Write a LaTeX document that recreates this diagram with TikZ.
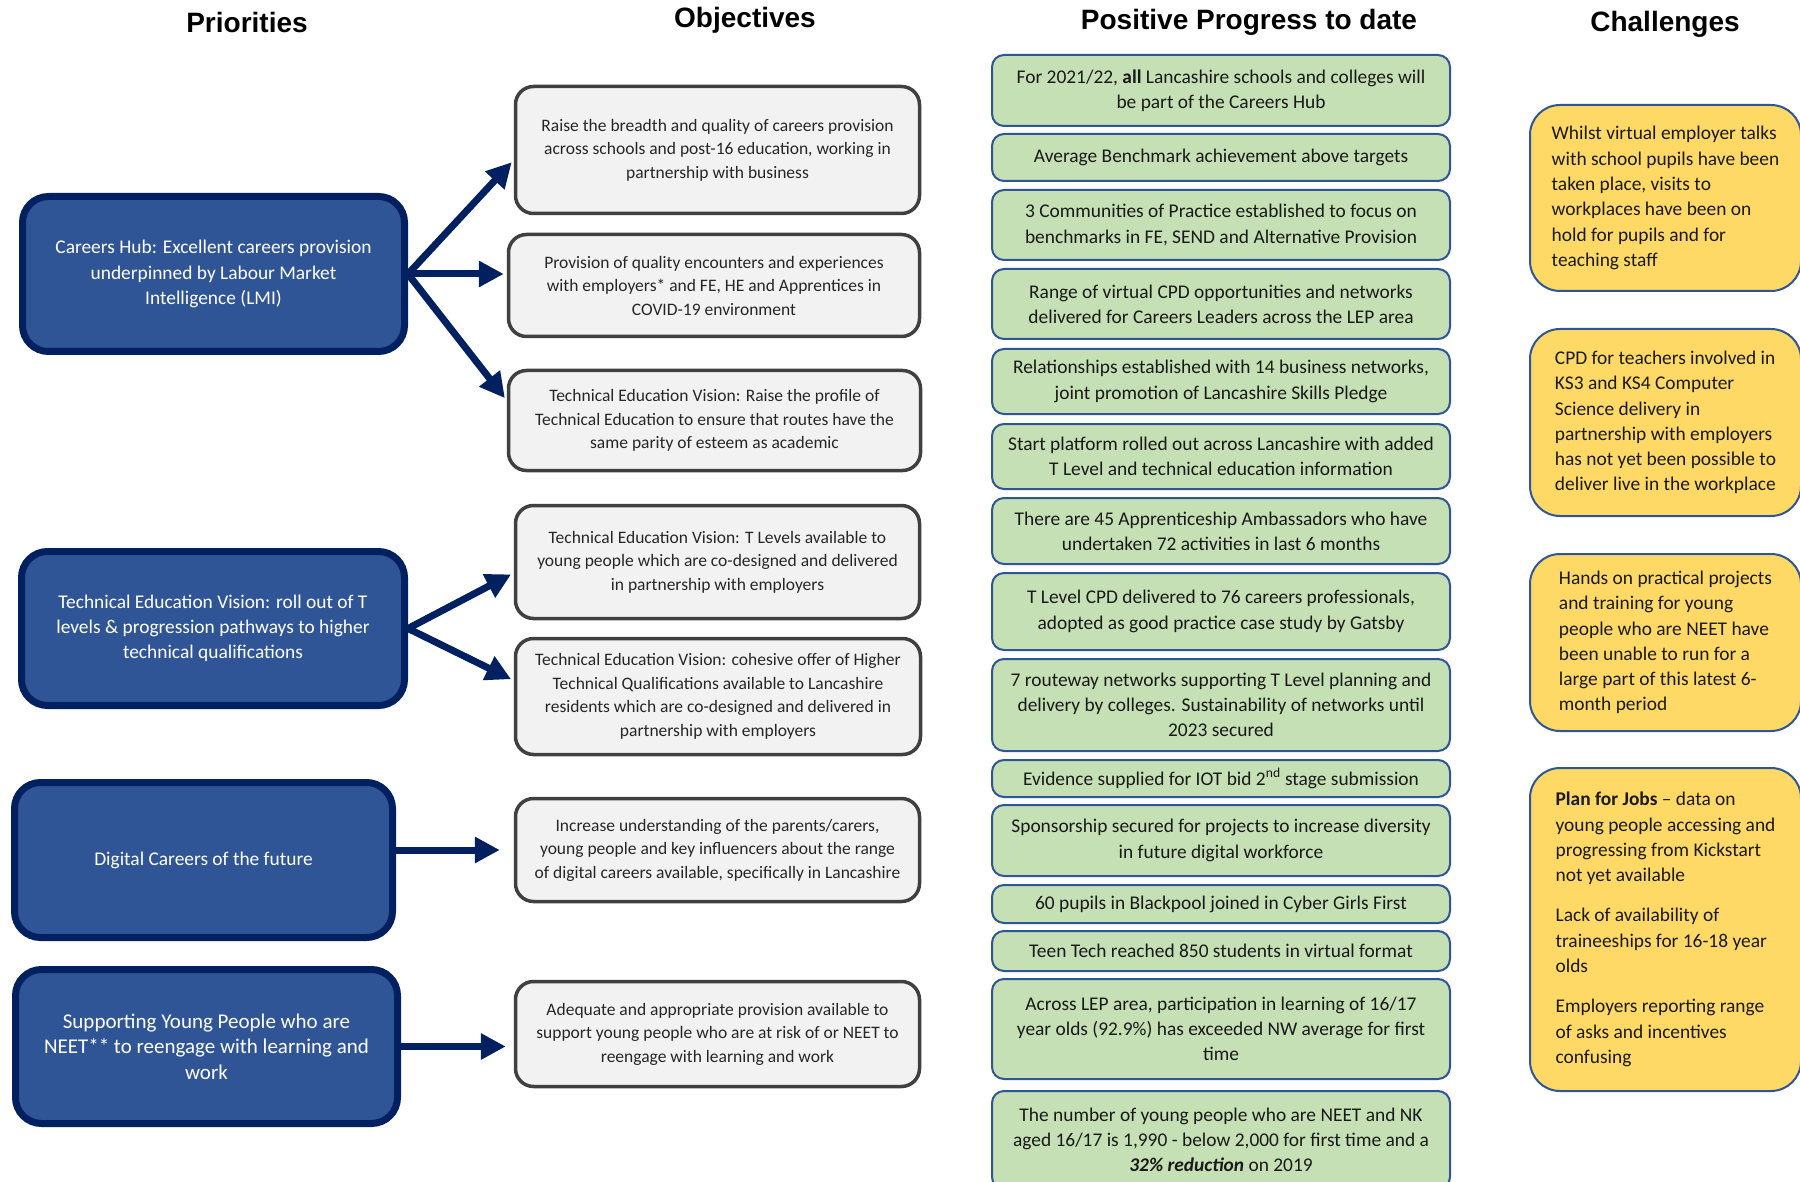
\documentclass[tikz,border=0pt]{standalone}
\usepackage{fontspec}
\setmainfont{Carlito}
\newfontfamily\headfamily{Liberation Sans}
\usetikzlibrary{arrows.meta}
\definecolor{prioblue}{HTML}{2F5597}
\definecolor{navy}{HTML}{002060}
\definecolor{objgrey}{HTML}{F2F2F2}
\definecolor{objline}{HTML}{404040}
\definecolor{proggreen}{HTML}{C5E0B4}
\definecolor{chalyellow}{HTML}{FFD966}
\definecolor{boxline}{HTML}{2F5597}
\newcommand{\hd}{\headfamily\bfseries\fontsize{28}{32}\selectfont}
\newcommand{\bt}{\fontsize{19.4}{25.3}\selectfont}
\newcommand{\nt}{\fontsize{21}{25.5}\selectfont}
\newcommand{\ot}{\fontsize{17.5}{23.5}\selectfont}
\tikzset{
  prio/.style={draw=navy, line width=7pt, fill=prioblue, rounded corners=26pt,
    text=white, font=\bt, align=center, inner sep=0pt},
  objbox/.style={draw=objline, line width=3.5pt, fill=objgrey, rounded corners=18pt,
    text=black!85, font=\ot, align=center, inner sep=0pt, minimum width=404pt},
  progbox/.style={draw=boxline, line width=2pt, fill=proggreen, rounded corners=12pt,
    text=black!90, font=\bt, align=center, inner sep=0pt, minimum width=458pt},
  chalbox/.style={draw=boxline, line width=2pt, fill=chalyellow, rounded corners=30pt,
    text=black!90, font=\bt, align=left, inner sep=0pt, minimum width=271pt},
  bigarrow/.style={navy, line width=7pt, -{Triangle[length=25pt,width=25pt]}, shorten >=3pt},
}

\begin{document}
\begin{tikzpicture}[x=1pt,y=-1pt]
   \useasboundingbox (0,0) rectangle (1800,1182);
   \fill[white] (0,0) rectangle (1800,1182);
   \clip (0,0) rectangle (1800,1182);
   % column headings
   \node[font=\hd, anchor=base] (head-prio) at (247,33) {Priorities};
   \node[font=\hd, anchor=base] (head-obj)  at (745,28) {Objectives};
   \node[font=\hd, anchor=base] (head-prog) at (1249,30) {Positive Progress to date};
   \node[font=\hd, anchor=base] (head-chal) at (1665,32) {Challenges};
   % priorities
   \node[prio, minimum width=382pt, minimum height=155pt] (prio-hub) at (213.5,274)
    {Careers Hub: Excellent careers provision\\underpinned by Labour Market\\Intelligence (LMI)};
   \node[prio, minimum width=383pt, minimum height=154pt] (prio-tech) at (213,628.5)
    {Technical Education Vision: roll out of T\\levels \& progression pathways to higher\\technical qualifications};
   \node[prio, minimum width=378pt, minimum height=155pt] (prio-digital) at (203.5,860)
    {Digital Careers of the future};
   \node[prio, font=\nt, minimum width=382pt, minimum height=154pt] (prio-neet) at (206.5,1046.5)
    {Supporting Young People who are\\NEET** to reengage with learning and\\work};
   % objectives
   \node[objbox, minimum height=127pt] (obj-1) at (717.5,150)
    {Raise the breadth and quality of careers provision\\across schools and post-16 education, working in\\partnership with business};
   \node[objbox, minimum width=411pt, minimum height=102pt] (obj-2) at (714,285.5)
    {Provision of quality encounters and experiences\\with employers* and FE, HE and Apprentices in\\COVID-19 environment};
   \node[objbox, minimum width=412pt, minimum height=100pt] (obj-3) at (714.5,420.5)
    {Technical Education Vision: Raise the profile of\\Technical Education to ensure that routes have the\\same parity of esteem as academic};
   \node[objbox, minimum height=113pt] (obj-4) at (717.5,562)
    {Technical Education Vision: T Levels available to\\young people which are co-designed and delivered\\in partnership with employers};
   \node[objbox, minimum width=405pt, minimum height=116pt] (obj-5) at (718,696.5)
    {Technical Education Vision: cohesive offer of Higher\\Technical Qualifications available to Lancashire\\residents which are co-designed and delivered in\\partnership with employers};
   \node[objbox, minimum height=103pt] (obj-6) at (717.5,850)
    {Increase understanding of the parents/carers,\\young people and key influencers about the range\\of digital careers available, specifically in Lancashire};
   \node[objbox, minimum height=105pt] (obj-7) at (717.5,1034)
    {Adequate and appropriate provision available to\\support young people who are at risk of or NEET to\\reengage with learning and work};
   % arrows
   \draw[bigarrow] (prio-hub.east) -- ([yshift=-10pt]obj-1.west);
   \draw[bigarrow] (prio-hub.east) -- (prio-hub.east -| obj-2.west);
   \draw[bigarrow] (prio-hub.east) -- ([yshift=20pt]obj-3.west);
   \draw[bigarrow] (prio-tech.east) -- ([yshift=-11pt]obj-4.west);
   \draw[bigarrow] (prio-tech.east) -- ([yshift=16pt]obj-5.west);
   \draw[bigarrow, shorten >=14pt] (prio-digital.east |- obj-6.west) -- (obj-6.west);
   \draw[bigarrow, shorten >=8pt] (prio-neet.east) -- (prio-neet.east -| obj-7.west);
   % progress to date
   \node[progbox, minimum height=71pt] (prog-1) at (1221,90.5)
    {For 2021/22, \textbf{all} Lancashire schools and colleges will\\be part of the Careers Hub};
   \node[progbox, minimum height=47pt] (prog-2) at (1221,157.5)
    {Average Benchmark achievement above targets};
   \node[progbox, minimum height=70pt] (prog-3) at (1221,225)
    {3 Communities of Practice established to focus on\\benchmarks in FE, SEND and Alternative Provision};
   \node[progbox, minimum height=70pt] (prog-4) at (1221,304)
    {Range of virtual CPD opportunities and networks\\delivered for Careers Leaders across the LEP area};
   \node[progbox, minimum height=65pt] (prog-5) at (1221,381.5)
    {Relationships established with 14 business networks,\\joint promotion of Lancashire Skills Pledge};
   \node[progbox, minimum height=65pt] (prog-6) at (1221,456.5)
    {Start platform rolled out across Lancashire with added\\T Level and technical education information};
   \node[progbox, minimum height=66pt] (prog-7) at (1221,531)
    {There are 45 Apprenticeship Ambassadors who have\\undertaken 72 activities in last 6 months};
   \node[progbox, minimum height=77pt] (prog-8) at (1221,611.5)
    {T Level CPD delivered to 76 careers professionals,\\adopted as good practice case study by Gatsby};
   \node[progbox, minimum height=92pt] (prog-9) at (1221,705)
    {7 routeway networks supporting T Level planning and\\delivery by colleges. Sustainability of networks until\\2023 secured};
   \node[progbox, minimum height=37pt] (prog-10) at (1221,778.5)
    {Evidence supplied for IOT bid 2\textsuperscript{nd} stage submission};
   \node[progbox, minimum height=71pt] (prog-11) at (1221,840.5)
    {Sponsorship secured for projects to increase diversity\\in future digital workforce};
   \node[progbox, minimum height=38pt] (prog-12) at (1221,904)
    {60 pupils in Blackpool joined in Cyber Girls First};
   \node[progbox, minimum height=40pt] (prog-13) at (1221,951)
    {Teen Tech reached 850 students in virtual format};
   \node[progbox, minimum height=100pt] (prog-14) at (1221,1029)
    {Across LEP area, participation in learning of 16/17\\year olds (92.9\%) has exceeded NW average for first\\time};
   \node[progbox, minimum height=98pt] (prog-15) at (1221,1140)
    {The number of young people who are NEET and NK\\aged 16/17 is 1,990 - below 2,000 for first time and a\\\textbf{\textit{32\% reduction}} on 2019};
   % challenges
   \node[chalbox, minimum height=186pt] (chal-1) at (1665.5,198)
    {Whilst virtual employer talks\\with school pupils have been\\taken place, visits to\\workplaces have been on\\hold for pupils and for\\teaching staff};
   \node[chalbox, minimum height=187pt] (chal-2) at (1665.5,422.5)
    {CPD for teachers involved in\\KS3 and KS4 Computer\\Science delivery in\\partnership with employers\\has not yet been possible to\\deliver live in the workplace};
   \node[chalbox, minimum height=177pt] (chal-3) at (1665.5,642.5)
    {Hands on practical projects\\and training for young\\people who are NEET have\\been unable to run for a\\large part of this latest 6-\\month period};
   \node[chalbox, minimum height=323pt] (chal-4) at (1665.5,929.5)
    {\textbf{Plan for Jobs} -- data on\\young people accessing and\\progressing from Kickstart\\not yet available\\[15pt]Lack of availability of\\traineeships for 16-18 year\\olds\\[15pt]Employers reporting range\\of asks and incentives\\confusing};
\end{tikzpicture}
\end{document}
